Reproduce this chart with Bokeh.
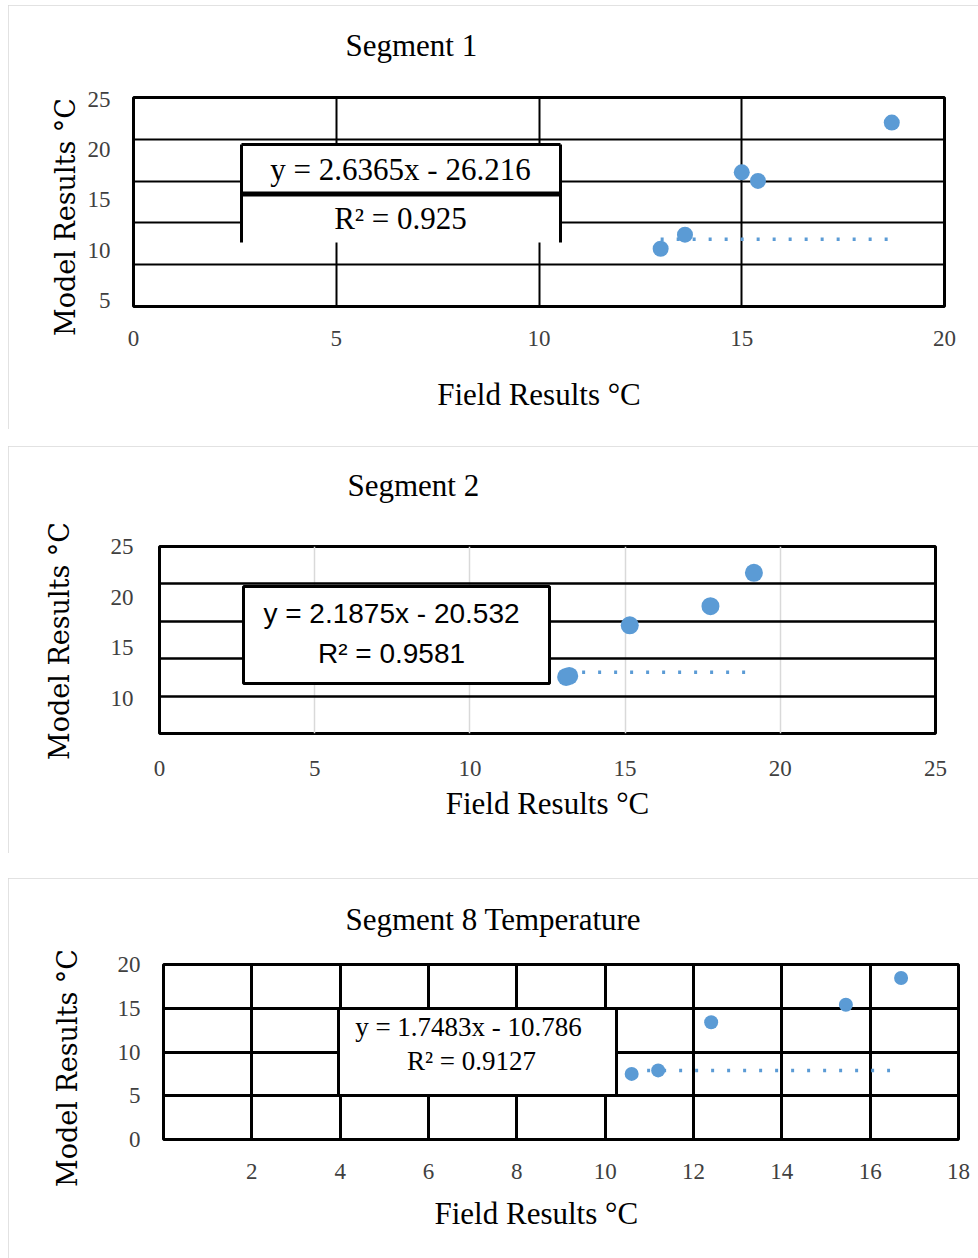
import numpy as np
from bokeh.plotting import figure
from bokeh.models import Label, FixedTicker, Range1d, Title
from bokeh.embed import file_html
from bokeh.resources import INLINE

# ---------------- data ----------------
seg1_field = [13.0, 13.6, 15.0, 15.4, 18.7]
seg1_model = [10.15, 11.55, 17.75, 16.9, 22.7]
seg1_trend_x = [13.0, 18.6]
seg1_trend_y = [11.1, 11.1]
seg1_eq = ["y = 2.6365x - 26.216", "R² = 0.925"]
seg1_xticks = [0, 5, 10, 15, 20]
seg1_yticks = [5, 10, 15, 20, 25]

seg2_field = [13.1, 13.2, 15.15, 17.75, 19.15]
seg2_model = [12.1, 12.2, 17.2, 19.1, 22.4]
seg2_trend_x = [13.1, 18.95]
seg2_trend_y = [12.55, 12.55]
seg2_eq = ["y = 2.1875x - 20.532", "R² = 0.9581"]
seg2_xticks = [0, 5, 10, 15, 20, 25]
seg2_yticks = [10, 15, 20, 25]

seg8_field = [10.6, 11.2, 12.4, 15.45, 16.7]
seg8_model = [7.5, 7.9, 13.4, 15.4, 18.45]
seg8_trend_x = [10.95, 16.45]
seg8_trend_y = [7.9, 7.9]
seg8_eq = ["y = 1.7483x - 10.786", "R² = 0.9127"]
seg8_xticks = [2, 4, 6, 8, 10, 12, 14, 16, 18]
seg8_yticks = [0, 5, 10, 15, 20]

titles = ["Segment 1", "Segment 2", "Segment 8 Temperature"]
x_title = "Field Results °C"
y_title = "Model Results °C"

SERIF = "Liberation Serif"
SANS = "Liberation Sans"
YFONT = "DejaVu Serif"
BLUE = "#5B9BD5"
W = 970


class Panel:
    """One chart; geometry given in page pixels."""
    def __init__(self, top, height, frame, xr, yr):
        fl, fr, ft, fb = frame
        self.frame = frame
        self.xr, self.yr = xr, yr
        self.p = figure(width=W, height=height,
                        x_range=Range1d(*xr), y_range=Range1d(*yr),
                        output_backend="svg", toolbar_location=None,
                        min_border_left=fl - 8, min_border_right=W + 8 - fr,
                        min_border_top=ft - top, min_border_bottom=top + height - fb,
                        background_fill_color="white", border_fill_color="white",
                        styles={"outline": "2px solid #d9d9d9", "outline-offset": "-2px"})

    def X(self, px):
        fl, fr, ft, fb = self.frame
        return self.xr[0] + (px - fl) / (fr - fl) * (self.xr[1] - self.xr[0])

    def Y(self, py):
        fl, fr, ft, fb = self.frame
        return self.yr[1] - (py - ft) / (fb - ft) * (self.yr[1] - self.yr[0])

    def label(self, px, py, text, font=SERIF, size="31px"):
        self.p.add_layout(Label(x=self.X(px), y=self.Y(py), text=text,
                                text_font=font, text_font_size=size,
                                text_align="center", text_baseline="alphabetic",
                                text_color="black"))

    def axes(self, xticks, yticks, xstand, ystand, xlab_stand=None):
        p = self.p
        p.xaxis.ticker = FixedTicker(ticks=xticks)
        p.yaxis.ticker = FixedTicker(ticks=yticks)
        for ax in (p.xaxis, p.yaxis):
            ax.axis_line_color = None
            ax.major_tick_line_color = None
            ax.minor_tick_line_color = None
            ax.major_label_text_font = SERIF
            ax.major_label_text_font_size = "23px"
            ax.major_label_text_color = "#404040"
        p.xaxis.major_label_standoff = xstand
        p.yaxis.major_label_standoff = ystand
        if xlab_stand is not None:
            p.xaxis.axis_label = x_title
            p.xaxis.axis_label_text_font = SERIF
            p.xaxis.axis_label_text_font_size = "31px"
            p.xaxis.axis_label_text_font_style = "normal"
            p.xaxis.axis_label_text_color = "black"
            p.xaxis.axis_label_standoff = xlab_stand

    def titles(self, text, left_px, line_h, ytitle_offset, ytitle_standoff):
        fl = self.frame[0]
        # trailing blank line keeps the title clear of the plot area
        t = Title(text=text + "\n", align="left", offset=left_px - fl, vertical_align="top",
                  standoff=0, text_font=SERIF, text_font_size="31px", text_line_height=line_h,
                  text_font_style="normal", text_color="black")
        self.p.add_layout(t, "above")
        yt = Title(text=y_title, align="left", offset=ytitle_offset, vertical_align="bottom",
                   standoff=ytitle_standoff, text_font=YFONT, text_font_size="27px",
                   text_font_style="normal", text_color="black")
        self.p.add_layout(yt, "left")

    def xtitle(self, left_px, standoff):
        fl = self.frame[0]
        t = Title(text=x_title, align="left", offset=left_px - fl, vertical_align="top",
                  standoff=standoff, text_font=SERIF, text_font_size="31px",
                  text_font_style="normal", text_color="black")
        self.p.add_layout(t, "below")


# ---------------- Panel 1 ----------------
P1 = Panel(top=5, height=424, frame=(133, 944, 97, 306), xr=(0, 20), yr=(4.4, 25.2))
p1 = P1.p
P1.axes(seg1_xticks, seg1_yticks, 18, 17, 28)
p1.xgrid.ticker = FixedTicker(ticks=[5, 10, 15])
p1.ygrid.ticker = FixedTicker(ticks=list(np.linspace(4.4, 25.2, 6)[1:-1]))
for g in (p1.xgrid, p1.ygrid):
    g.grid_line_color = "black"
    g.grid_line_width = 2
p1.outline_line_color = "black"
p1.outline_line_width = 3
bx0, bx1, by0, by1, bmid = P1.X(241), P1.X(560), P1.Y(144), P1.Y(242), P1.Y(193.5)
p1.quad(left=[bx0], right=[bx1], top=[by0], bottom=[by1], fill_color="white", line_color=None)
p1.segment(x0=[bx0, bx0, bx1], y0=[by0, by0, by0], x1=[bx1, bx0, bx1], y1=[by0, by1, by1],
           line_color="black", line_width=3)
p1.segment(x0=[bx0], y0=[bmid], x1=[bx1], y1=[bmid], line_color="black", line_width=5)
p1.line(seg1_trend_x, seg1_trend_y, line_color=BLUE, line_width=3.5, line_dash="3 13")
p1.scatter(seg1_field, seg1_model, size=16, fill_color=BLUE, line_color=None)
P1.label(400, 169, seg1_eq[0])
P1.label(400, 218, seg1_eq[1])
P1.titles(titles[0], 345, 0.944, -29.5, 7)

# ---------------- Panel 2 ----------------
P2 = Panel(top=446, height=407, frame=(159, 935, 546, 733), xr=(0, 25), yr=(6.5, 25))
p2 = P2.p
P2.axes(seg2_xticks, seg2_yticks, 21, 20, 7)
p2.xgrid.ticker = FixedTicker(ticks=[5, 10, 15, 20])
p2.ygrid.ticker = FixedTicker(ticks=list(np.linspace(6.5, 25, 6)[1:-1]))
p2.xgrid.grid_line_color = "#d9d9d9"
p2.xgrid.grid_line_width = 1.5
p2.ygrid.grid_line_color = "black"
p2.ygrid.grid_line_width = 2.5
p2.outline_line_color = "black"
p2.outline_line_width = 3
p2.quad(left=[P2.X(243)], right=[P2.X(549)], top=[P2.Y(586)], bottom=[P2.Y(683)],
        fill_color="white", line_color="black", line_width=3)
p2.line(seg2_trend_x, seg2_trend_y, line_color=BLUE, line_width=3.5, line_dash="3 13")
p2.scatter(seg2_field, seg2_model, size=18, fill_color=BLUE, line_color=None)
P2.label(391, 613, seg2_eq[0], font=SANS, size="28px")
P2.label(391, 653, seg2_eq[1], font=SANS, size="28px")
P2.titles(titles[1], 347, 1.21, -26.5, 65)

# ---------------- Panel 3 ----------------
P3 = Panel(top=878, height=380, frame=(163, 958, 964, 1139), xr=(0, 18), yr=(0, 20))
p3 = P3.p
P3.axes(seg8_xticks, seg8_yticks, 18, 17)
p3.xgrid.ticker = FixedTicker(ticks=[2, 4, 6, 8, 10, 12, 14, 16])
p3.ygrid.ticker = FixedTicker(ticks=[5, 10, 15])
for g in (p3.xgrid, p3.ygrid):
    g.grid_line_color = "black"
    g.grid_line_width = 3
p3.outline_line_color = "black"
p3.outline_line_width = 3
p3.quad(left=[P3.X(338)], right=[P3.X(616)], top=[P3.Y(1008)], bottom=[P3.Y(1095)],
        fill_color="white", line_color="black", line_width=3)
p3.line(seg8_trend_x, seg8_trend_y, line_color=BLUE, line_width=3.5, line_dash="3 13")
p3.scatter(seg8_field, seg8_model, size=14, fill_color=BLUE, line_color=None)
P3.label(468, 1026, seg8_eq[0], size="27px")
P3.label(471, 1060, seg8_eq[1], size="27px")
P3.titles(titles[2], 345, 0.74, -47.5, 63)
P3.xtitle(434, 28)

# page tops are 5, 446, 878; each figure sits 8px from the left
p1.margin = (5, 0, 0, 8)
p2.margin = (446 - 429, 0, 0, 8)
p3.margin = (878 - 853, 0, 0, 8)

open("out.html", "w").write(file_html([p1, p2, p3], INLINE))
